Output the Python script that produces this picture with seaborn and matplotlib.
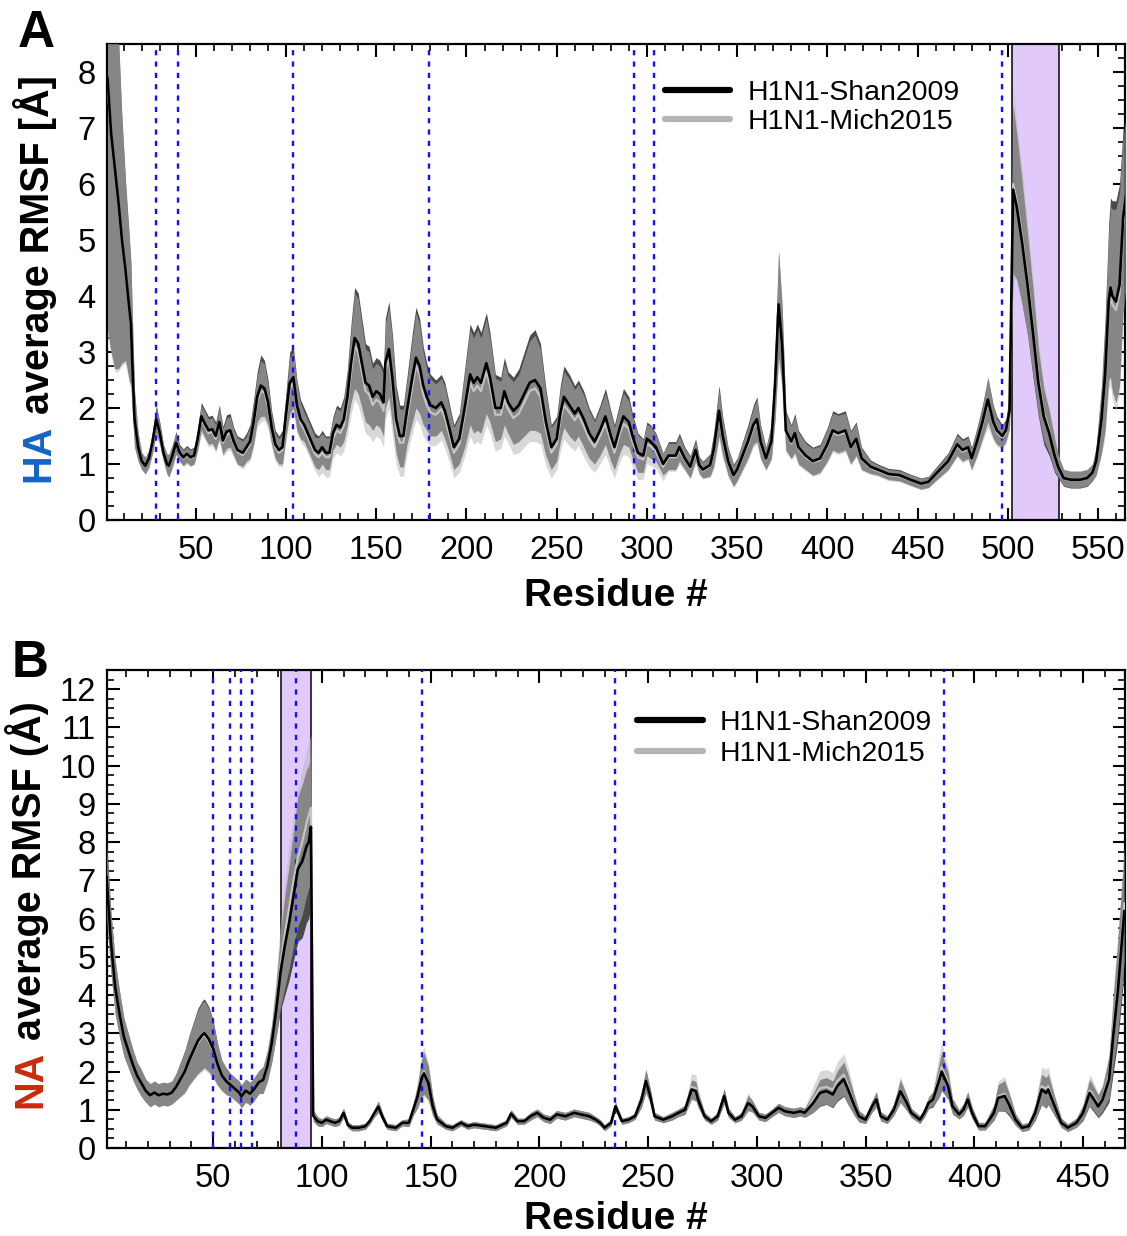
import numpy as np
import matplotlib
matplotlib.use("Agg")
import matplotlib.pyplot as plt
from matplotlib.ticker import MultipleLocator
from matplotlib.lines import Line2D
import seaborn as sns

# ---------------- HA (panel A) ----------------
HA_RES = [1, 3, 5, 7, 9, 11, 13, 14, 15, 16,
          18, 20, 22, 24, 26, 28, 30, 32, 34, 35,
          37, 39, 41, 43, 45, 47, 49, 51, 53, 55,
          57, 59, 61, 63, 65, 67, 69, 71, 73, 76,
          78, 80, 82, 84, 86, 88, 90, 92, 94, 96,
          98, 100, 102, 104, 106, 108, 110, 112, 114, 116,
          118, 120, 122, 124, 126, 128, 130, 132, 134, 136,
          138, 140, 142, 144, 146, 148, 150, 152, 154, 155,
          157, 159, 161, 163, 165, 167, 170, 172, 174, 176,
          178, 180, 183, 186, 188, 190, 193, 196, 199, 202,
          204, 206, 208, 211, 213, 216, 219, 221, 223, 226,
          229, 232, 235, 238, 241, 244, 247, 250, 252, 254,
          257, 260, 262, 265, 268, 271, 274, 277, 280, 282,
          285, 287, 290, 292, 295, 298, 300, 302, 305, 309,
          312, 316, 318, 321, 324, 327, 329, 331, 335, 337,
          340, 342, 345, 348, 350, 353, 356, 359, 361, 363,
          366, 369, 371, 373, 375, 377, 380, 382, 384, 388,
          392, 396, 400, 403, 406, 410, 413, 416, 419, 424,
          428, 434, 440, 446, 452, 456, 461, 467, 472, 475,
          478, 480, 483, 486, 489, 492, 494, 497, 499, 501,
          503, 505, 508, 511, 514, 517, 520, 523, 526, 528,
          531, 535, 540, 544, 547, 549, 552, 554, 556, 557,
          558, 560, 562, 564, 566]

HA_SHAN = [7.9, 6.9, 6.3, 5.7, 5.0, 4.45, 3.8, 3.5, 2.6, 1.8,
           1.3, 1.05, 0.97, 1.1, 1.4, 1.8, 1.55, 1.2, 1.0, 0.97,
           1.15, 1.38, 1.2, 1.12, 1.18, 1.12, 1.15, 1.45, 1.85, 1.72,
           1.6, 1.62, 1.5, 1.75, 1.42, 1.58, 1.6, 1.4, 1.25, 1.2,
           1.3, 1.4, 1.75, 2.2, 2.4, 2.35, 2.1, 1.65, 1.35, 1.25,
           1.3, 1.9, 2.45, 2.55, 2.05, 1.8, 1.7, 1.55, 1.4, 1.25,
           1.2, 1.3, 1.2, 1.2, 1.55, 1.7, 1.65, 1.8, 2.2, 2.8,
           3.25, 3.15, 2.8, 2.45, 2.4, 2.2, 2.3, 2.25, 2.1, 2.8,
           3.05, 2.5, 1.8, 1.5, 1.5, 1.95, 2.55, 2.9, 2.75, 2.4,
           2.2, 2.05, 2.0, 2.1, 1.95, 1.7, 1.3, 1.45, 2.0, 2.6,
           2.45, 2.55, 2.45, 2.8, 2.55, 2.0, 2.0, 2.3, 2.1, 1.95,
           2.05, 2.25, 2.45, 2.5, 2.35, 1.75, 1.3, 1.45, 1.9, 2.2,
           2.05, 1.9, 2.0, 1.8, 1.55, 1.4, 1.6, 1.85, 1.5, 1.3,
           1.65, 1.85, 1.75, 1.5, 1.2, 1.15, 1.45, 1.4, 1.3, 1.0,
           1.15, 1.15, 1.3, 1.1, 0.95, 1.25, 0.98, 0.9, 0.98, 1.25,
           1.95, 1.5, 1.05, 0.8, 0.9, 1.15, 1.4, 1.7, 1.8, 1.4,
           1.1, 1.4, 2.4, 3.85, 3.1, 1.6, 1.4, 1.55, 1.3, 1.15,
           1.05, 1.1, 1.35, 1.6, 1.55, 1.6, 1.3, 1.45, 1.1, 0.95,
           0.9, 0.82, 0.8, 0.72, 0.65, 0.68, 0.85, 1.05, 1.35, 1.25,
           1.3, 1.1, 1.4, 1.75, 2.15, 1.75, 1.6, 1.5, 1.6, 1.95,
           5.9, 5.6, 4.95, 4.2, 3.35, 2.45, 1.85, 1.55, 1.15, 0.95,
           0.75, 0.72, 0.72, 0.75, 0.85, 1.05, 1.8, 2.6, 3.9, 4.15,
           4.0, 3.9, 4.2, 5.4, 5.9]

HA_SHAN_SD = [4.5, 3.9, 3.6, 3.0, 2.2, 1.6, 1.3, 1.1, 0.8, 0.5,
              0.25, 0.15, 0.15, 0.15, 0.2, 0.25, 0.2, 0.15, 0.18, 0.2,
              0.2, 0.2, 0.15, 0.15, 0.15, 0.15, 0.15, 0.2, 0.25, 0.25,
              0.25, 0.25, 0.25, 0.3, 0.25, 0.3, 0.3, 0.25, 0.25, 0.25,
              0.25, 0.3, 0.4, 0.45, 0.55, 0.5, 0.4, 0.3, 0.25, 0.25,
              0.3, 0.4, 0.55, 0.55, 0.45, 0.35, 0.3, 0.3, 0.3, 0.3,
              0.3, 0.3, 0.3, 0.3, 0.3, 0.35, 0.35, 0.4, 0.5, 0.7,
              0.9, 0.9, 0.8, 0.7, 0.7, 0.6, 0.6, 0.6, 0.6, 0.8,
              0.85, 0.8, 0.6, 0.55, 0.55, 0.6, 0.8, 0.9, 0.85, 0.7,
              0.6, 0.55, 0.5, 0.5, 0.5, 0.45, 0.4, 0.45, 0.7, 0.9,
              0.9, 0.95, 0.9, 0.9, 0.8, 0.6, 0.55, 0.6, 0.55, 0.6,
              0.65, 0.75, 0.85, 0.9, 0.8, 0.6, 0.4, 0.4, 0.5, 0.55,
              0.55, 0.5, 0.5, 0.5, 0.45, 0.4, 0.45, 0.5, 0.45, 0.4,
              0.45, 0.5, 0.45, 0.4, 0.35, 0.3, 0.3, 0.3, 0.25, 0.2,
              0.25, 0.25, 0.25, 0.2, 0.2, 0.2, 0.15, 0.15, 0.2, 0.3,
              0.45, 0.35, 0.25, 0.2, 0.2, 0.25, 0.3, 0.35, 0.4, 0.3,
              0.2, 0.3, 0.6, 0.95, 0.7, 0.35, 0.3, 0.35, 0.3, 0.25,
              0.25, 0.25, 0.3, 0.35, 0.35, 0.35, 0.3, 0.3, 0.2, 0.12,
              0.1, 0.1, 0.1, 0.1, 0.1, 0.1, 0.12, 0.15, 0.2, 0.2,
              0.2, 0.2, 0.25, 0.3, 0.4, 0.3, 0.25, 0.2, 0.2, 0.3,
              1.5, 1.3, 1.1, 0.9, 0.8, 0.6, 0.5, 0.4, 0.3, 0.2,
              0.15, 0.15, 0.15, 0.15, 0.15, 0.25, 0.6, 1.0, 1.4, 1.6,
              1.7, 1.8, 1.8, 1.6, 1.5]

HA_MICH = [7.8, 6.85, 6.25, 5.65, 4.95, 4.4, 3.75, 3.45, 2.6, 1.8,
           1.3, 1.05, 0.97, 1.08, 1.38, 1.75, 1.52, 1.2, 1.0, 0.97,
           1.13, 1.35, 1.18, 1.1, 1.15, 1.1, 1.13, 1.42, 1.8, 1.68,
           1.55, 1.58, 1.45, 1.7, 1.38, 1.52, 1.55, 1.36, 1.22, 1.16,
           1.25, 1.35, 1.7, 2.12, 2.3, 2.28, 2.02, 1.6, 1.3, 1.2,
           1.25, 1.82, 2.35, 2.45, 2.0, 1.74, 1.62, 1.48, 1.33, 1.18,
           1.12, 1.2, 1.12, 1.12, 1.45, 1.6, 1.55, 1.68, 2.08, 2.65,
           3.1, 3.0, 2.65, 2.3, 2.25, 2.05, 2.15, 2.1, 1.95, 2.65,
           2.9, 2.35, 1.65, 1.38, 1.38, 1.82, 2.4, 2.75, 2.6, 2.25,
           2.05, 1.92, 1.88, 1.98, 1.83, 1.58, 1.2, 1.35, 1.88, 2.45,
           2.3, 2.4, 2.3, 2.65, 2.4, 1.88, 1.88, 2.15, 1.98, 1.82,
           1.9, 2.1, 2.3, 2.35, 2.2, 1.62, 1.2, 1.35, 1.78, 2.05,
           1.92, 1.78, 1.88, 1.68, 1.45, 1.3, 1.5, 1.72, 1.4, 1.2,
           1.55, 1.72, 1.63, 1.4, 1.12, 1.08, 1.36, 1.32, 1.22, 0.95,
           1.12, 1.12, 1.25, 1.07, 0.93, 1.2, 0.96, 0.88, 0.96, 1.2,
           1.88, 1.45, 1.02, 0.78, 0.88, 1.12, 1.35, 1.65, 1.75, 1.37,
           1.08, 1.36, 2.35, 3.8, 3.05, 1.56, 1.37, 1.5, 1.27, 1.12,
           1.03, 1.07, 1.32, 1.56, 1.52, 1.56, 1.28, 1.42, 1.08, 0.93,
           0.88, 0.8, 0.78, 0.71, 0.64, 0.67, 0.83, 1.03, 1.32, 1.22,
           1.27, 1.08, 1.37, 1.7, 2.1, 1.72, 1.56, 1.47, 1.56, 1.9,
           6.0, 5.7, 5.05, 4.3, 3.45, 2.55, 1.92, 1.6, 1.18, 0.97,
           0.76, 0.73, 0.73, 0.76, 0.86, 1.05, 1.75, 2.5, 3.75, 4.0,
           3.85, 3.75, 4.05, 5.25, 5.8]

HA_MICH_SD = [4.5, 3.9, 3.6, 3.0, 2.2, 1.6, 1.3, 1.1, 0.8, 0.5,
              0.25, 0.15, 0.15, 0.15, 0.2, 0.25, 0.2, 0.15, 0.18, 0.2,
              0.2, 0.2, 0.15, 0.15, 0.15, 0.15, 0.15, 0.2, 0.25, 0.25,
              0.25, 0.25, 0.25, 0.3, 0.25, 0.3, 0.3, 0.25, 0.25, 0.25,
              0.25, 0.3, 0.4, 0.45, 0.55, 0.5, 0.4, 0.3, 0.25, 0.25,
              0.3, 0.4, 0.55, 0.55, 0.45, 0.35, 0.3, 0.3, 0.3, 0.3,
              0.35, 0.35, 0.35, 0.35, 0.35, 0.4, 0.4, 0.45, 0.55, 0.75,
              0.95, 0.95, 0.85, 0.75, 0.75, 0.65, 0.65, 0.65, 0.65, 0.85,
              0.9, 0.85, 0.65, 0.6, 0.6, 0.65, 0.85, 0.95, 0.9, 0.75,
              0.65, 0.6, 0.55, 0.55, 0.55, 0.5, 0.45, 0.5, 0.75, 0.95,
              0.95, 1.0, 0.95, 0.95, 0.85, 0.65, 0.6, 0.65, 0.6, 0.65,
              0.7, 0.8, 0.9, 0.95, 0.85, 0.65, 0.45, 0.45, 0.55, 0.6,
              0.6, 0.55, 0.55, 0.55, 0.5, 0.45, 0.5, 0.55, 0.5, 0.45,
              0.5, 0.55, 0.5, 0.45, 0.4, 0.35, 0.35, 0.35, 0.3, 0.25,
              0.25, 0.25, 0.25, 0.2, 0.2, 0.2, 0.15, 0.15, 0.2, 0.3,
              0.45, 0.35, 0.25, 0.2, 0.2, 0.25, 0.3, 0.35, 0.4, 0.3,
              0.2, 0.3, 0.6, 1.0, 0.75, 0.35, 0.3, 0.35, 0.3, 0.25,
              0.25, 0.25, 0.3, 0.35, 0.35, 0.35, 0.3, 0.3, 0.2, 0.12,
              0.1, 0.1, 0.1, 0.1, 0.1, 0.1, 0.12, 0.15, 0.2, 0.2,
              0.2, 0.2, 0.25, 0.3, 0.45, 0.3, 0.25, 0.2, 0.2, 0.3,
              1.7, 1.4, 1.2, 1.0, 0.85, 0.65, 0.5, 0.4, 0.3, 0.2,
              0.15, 0.15, 0.15, 0.15, 0.15, 0.25, 0.6, 1.0, 1.4, 1.6,
              1.7, 1.8, 1.8, 1.6, 1.5]

HA_MARKS = [28, 40, 104, 179, 293, 304, 497]
HA_REGION = [502.5, 528.5]

# ---------------- NA (panel B) ----------------
NA_RES = [1, 3, 5, 7, 9, 11, 13, 15, 17, 19,
          21, 23, 25, 27, 29, 31, 33, 35, 37, 39,
          41, 43, 45, 46, 48, 50, 52, 54, 56, 58,
          60, 62, 63, 65, 67, 69, 71, 73, 75, 77,
          79, 81, 83, 85, 87, 89, 91, 93, 94, 95,
          96, 98, 100, 102, 104, 106, 108, 110, 112, 114,
          117, 120, 122, 124, 126, 128, 130, 134, 137, 140,
          142, 144, 146, 147, 149, 151, 153, 157, 160, 164,
          167, 170, 175, 180, 185, 187, 190, 193, 196, 199,
          202, 205, 208, 212, 216, 219, 223, 226, 228, 230,
          233, 235, 238, 241, 244, 247, 249, 251, 253, 257,
          261, 264, 267, 270, 272, 273, 276, 279, 282, 285,
          287, 290, 293, 296, 298, 301, 304, 307, 310, 313,
          317, 320, 322, 326, 329, 332, 335, 337, 340, 342,
          345, 347, 350, 353, 355, 357, 360, 363, 366, 369,
          371, 375, 377, 379, 381, 384, 385, 388, 390, 393,
          395, 397, 399, 402, 405, 409, 411, 414, 416, 419,
          422, 425, 428, 431, 433, 434, 437, 440, 443, 447,
          450, 453, 454, 457, 459, 462, 464, 466, 468, 469]

NA_SHAN = [7.1, 5.4, 4.2, 3.5, 2.9, 2.55, 2.2, 1.9, 1.7, 1.5,
           1.38, 1.45, 1.38, 1.42, 1.4, 1.45, 1.6, 1.8, 2.0, 2.3,
           2.55, 2.8, 2.95, 3.0, 2.85, 2.6, 2.2, 1.9, 1.75, 1.65,
           1.55, 1.45, 1.35, 1.5, 1.42, 1.55, 1.72, 1.78, 2.15, 2.75,
           3.6, 4.6, 5.3, 5.9, 6.6, 7.3, 7.5, 7.9, 8.0, 8.4,
           0.85, 0.7, 0.66, 0.74, 0.7, 0.66, 0.7, 0.92, 0.6, 0.53,
           0.53, 0.57, 0.7, 0.9, 1.08, 0.8, 0.57, 0.53, 0.66, 0.66,
           1.0, 1.35, 1.85, 1.95, 1.7, 1.1, 0.75, 0.57, 0.53, 0.66,
           0.57, 0.61, 0.57, 0.53, 0.66, 0.9, 0.7, 0.7, 0.83, 0.92,
           0.79, 0.74, 0.88, 0.83, 0.92, 0.88, 0.83, 0.74, 0.66, 0.53,
           0.66, 1.09, 0.7, 0.74, 0.83, 1.27, 1.75, 1.36, 0.83, 0.74,
           0.83, 0.92, 1.0, 1.53, 1.49, 1.27, 0.83, 0.7, 0.83, 1.36,
           0.92, 0.74, 0.83, 1.18, 1.09, 0.83, 0.79, 0.92, 1.05, 0.96,
           0.92, 0.96, 0.92, 1.18, 1.44, 1.49, 1.4, 1.62, 1.8, 1.53,
           1.09, 0.83, 0.74, 1.09, 1.27, 0.83, 0.74, 1.0, 1.49, 1.18,
           0.92, 0.74, 0.92, 1.18, 1.27, 1.8, 2.0, 1.62, 1.09, 0.88,
           1.0, 1.27, 0.92, 0.57, 0.57, 0.92, 1.31, 1.36, 1.14, 0.74,
           0.53, 0.57, 0.92, 1.53, 1.44, 1.53, 1.09, 0.66, 0.53, 0.66,
           0.92, 1.44, 1.36, 1.09, 1.27, 1.8, 3.0, 4.1, 5.5, 6.2]

NA_SHAN_SD = [1.0, 0.8, 0.7, 0.6, 0.5, 0.45, 0.4, 0.35, 0.35, 0.3,
              0.3, 0.3, 0.3, 0.3, 0.3, 0.3, 0.35, 0.45, 0.55, 0.65,
              0.75, 0.85, 0.9, 0.9, 0.85, 0.75, 0.55, 0.4, 0.35, 0.3,
              0.3, 0.3, 0.3, 0.3, 0.3, 0.3, 0.3, 0.35, 0.4, 0.5,
              0.7, 1.0, 1.3, 1.5, 1.7, 1.9, 2.0, 2.0, 2.0, 2.0,
              0.15, 0.12, 0.1, 0.1, 0.1, 0.1, 0.1, 0.12, 0.08, 0.08,
              0.08, 0.08, 0.08, 0.1, 0.15, 0.1, 0.08, 0.08, 0.08, 0.1,
              0.15, 0.3, 0.5, 0.55, 0.45, 0.25, 0.12, 0.08, 0.08, 0.08,
              0.08, 0.08, 0.08, 0.08, 0.08, 0.1, 0.08, 0.08, 0.1, 0.1,
              0.1, 0.1, 0.1, 0.1, 0.1, 0.1, 0.1, 0.08, 0.08, 0.08,
              0.08, 0.12, 0.08, 0.08, 0.08, 0.2, 0.3, 0.2, 0.1, 0.08,
              0.1, 0.1, 0.12, 0.25, 0.25, 0.2, 0.1, 0.08, 0.1, 0.2,
              0.12, 0.08, 0.1, 0.2, 0.15, 0.1, 0.1, 0.1, 0.12, 0.12,
              0.12, 0.12, 0.12, 0.25, 0.35, 0.35, 0.35, 0.4, 0.45, 0.4,
              0.25, 0.15, 0.1, 0.15, 0.2, 0.12, 0.1, 0.15, 0.3, 0.2,
              0.12, 0.1, 0.12, 0.15, 0.2, 0.45, 0.5, 0.35, 0.2, 0.12,
              0.15, 0.2, 0.15, 0.1, 0.1, 0.2, 0.35, 0.4, 0.3, 0.15,
              0.1, 0.1, 0.2, 0.4, 0.4, 0.4, 0.25, 0.12, 0.1, 0.12,
              0.2, 0.35, 0.35, 0.3, 0.35, 0.6, 1.0, 1.3, 1.5, 1.5]

NA_MICH = [7.0, 5.35, 4.2, 3.5, 2.9, 2.55, 2.2, 1.9, 1.7, 1.5,
           1.38, 1.45, 1.38, 1.42, 1.4, 1.45, 1.6, 1.78, 1.98, 2.28,
           2.52, 2.75, 2.9, 2.95, 2.8, 2.55, 2.18, 1.9, 1.75, 1.65,
           1.55, 1.45, 1.35, 1.5, 1.42, 1.55, 1.72, 1.78, 2.15, 2.75,
           3.7, 4.8, 5.6, 6.3, 7.0, 7.6, 8.0, 8.5, 8.7, 8.9,
           0.85, 0.7, 0.66, 0.74, 0.7, 0.66, 0.7, 0.92, 0.6, 0.53,
           0.53, 0.57, 0.7, 0.9, 1.08, 0.8, 0.57, 0.53, 0.66, 0.66,
           1.0, 1.38, 1.9, 2.0, 1.72, 1.12, 0.76, 0.57, 0.53, 0.66,
           0.57, 0.61, 0.57, 0.53, 0.66, 0.9, 0.7, 0.7, 0.83, 0.92,
           0.79, 0.74, 0.88, 0.83, 0.92, 0.88, 0.83, 0.74, 0.66, 0.53,
           0.66, 1.09, 0.7, 0.74, 0.83, 1.27, 1.75, 1.36, 0.83, 0.74,
           0.83, 0.92, 1.0, 1.6, 1.56, 1.3, 0.83, 0.7, 0.83, 1.36,
           0.92, 0.74, 0.83, 1.2, 1.1, 0.83, 0.79, 0.92, 1.05, 0.96,
           0.92, 0.96, 0.92, 1.28, 1.56, 1.6, 1.52, 1.75, 1.92, 1.62,
           1.12, 0.83, 0.74, 1.09, 1.27, 0.83, 0.74, 1.0, 1.52, 1.2,
           0.92, 0.74, 0.92, 1.2, 1.3, 1.9, 2.12, 1.7, 1.1, 0.88,
           1.0, 1.27, 0.92, 0.57, 0.57, 0.92, 1.35, 1.42, 1.18, 0.74,
           0.53, 0.57, 0.95, 1.62, 1.55, 1.62, 1.12, 0.66, 0.53, 0.66,
           0.95, 1.5, 1.45, 1.12, 1.32, 1.9, 3.2, 4.3, 5.7, 6.4]

NA_MICH_SD = [1.0, 0.8, 0.7, 0.6, 0.5, 0.45, 0.4, 0.35, 0.35, 0.3,
              0.3, 0.3, 0.3, 0.3, 0.3, 0.3, 0.35, 0.45, 0.55, 0.65,
              0.75, 0.85, 0.9, 0.9, 0.85, 0.75, 0.55, 0.4, 0.35, 0.3,
              0.3, 0.3, 0.3, 0.3, 0.3, 0.3, 0.3, 0.35, 0.4, 0.5,
              0.8, 1.1, 1.4, 1.6, 1.7, 1.8, 1.9, 1.9, 1.9, 1.9,
              0.15, 0.12, 0.1, 0.1, 0.1, 0.1, 0.1, 0.12, 0.08, 0.08,
              0.08, 0.08, 0.08, 0.1, 0.15, 0.1, 0.08, 0.08, 0.08, 0.1,
              0.15, 0.35, 0.6, 0.65, 0.5, 0.25, 0.12, 0.08, 0.08, 0.08,
              0.08, 0.08, 0.08, 0.08, 0.08, 0.1, 0.08, 0.08, 0.1, 0.1,
              0.1, 0.1, 0.1, 0.1, 0.1, 0.1, 0.1, 0.08, 0.08, 0.08,
              0.08, 0.12, 0.08, 0.08, 0.08, 0.2, 0.3, 0.2, 0.1, 0.08,
              0.1, 0.1, 0.12, 0.35, 0.35, 0.25, 0.1, 0.08, 0.1, 0.2,
              0.12, 0.08, 0.1, 0.25, 0.15, 0.1, 0.1, 0.1, 0.12, 0.12,
              0.12, 0.12, 0.12, 0.35, 0.45, 0.45, 0.45, 0.5, 0.55, 0.5,
              0.3, 0.15, 0.1, 0.15, 0.2, 0.12, 0.1, 0.15, 0.35, 0.2,
              0.12, 0.1, 0.12, 0.15, 0.2, 0.6, 0.65, 0.4, 0.2, 0.12,
              0.15, 0.2, 0.15, 0.1, 0.1, 0.2, 0.4, 0.45, 0.3, 0.15,
              0.1, 0.1, 0.2, 0.5, 0.5, 0.5, 0.25, 0.12, 0.1, 0.12,
              0.2, 0.4, 0.4, 0.3, 0.35, 0.6, 1.0, 1.3, 1.5, 1.5]

NA_MARKS = [50, 58, 63, 68, 88, 146, 235, 386]
NA_REGION = [81, 95]

SERIES = ["H1N1-Shan2009", "H1N1-Mich2015"]

# ---------------- style ----------------
sns.set_theme(style="ticks")
plt.rcParams["font.family"] = ["Liberation Sans", "DejaVu Sans"]
plt.rcParams["axes.linewidth"] = 1.6
plt.rcParams["text.color"] = "black"
plt.rcParams["axes.labelcolor"] = "black"

SHAN_BAND = "#4a4a4a"
MICH_BAND = "#b8b8b8"
MICH_LINE = "#c4c4c4"
SPAN_COL = "#e2c9fb"
MARK_COL = "#1010ff"

fig = plt.figure(figsize=(11.27, 12.36), dpi=100)
axA = fig.add_axes([0.0949, 0.5793, 0.9033, 0.3851])
axB = fig.add_axes([0.0949, 0.0712, 0.9033, 0.3867])


def draw_panel(ax, res, shan, shan_sd, mich, mich_sd, marks, region, xlim, ylim,
               ymajor, xlabelpad):
    res = np.asarray(res, float)
    shan = np.asarray(shan, float)
    shan_sd = np.asarray(shan_sd, float)
    mich = np.asarray(mich, float)
    mich_sd = np.asarray(mich_sd, float)

    ax.axvspan(region[0], region[1], facecolor=SPAN_COL, edgecolor="black",
               linewidth=1.1, zorder=1)
    ax.fill_between(res, shan - shan_sd, shan + shan_sd, color=SHAN_BAND,
                    linewidth=0, zorder=2)
    ax.fill_between(res, mich - mich_sd, mich + mich_sd, color=MICH_BAND,
                    alpha=0.55, linewidth=0, zorder=3)
    for m in marks:
        ax.axvline(m, color=MARK_COL, linewidth=1.7, dashes=(2.2, 2.6), zorder=4)
    sns.lineplot(x=res, y=mich, ax=ax, color=MICH_LINE, linewidth=1.6,
                 sort=False, zorder=5, legend=False)
    sns.lineplot(x=res, y=shan, ax=ax, color="black", linewidth=1.9,
                 sort=False, zorder=6, legend=False)

    ax.set_xlim(*xlim)
    ax.set_ylim(*ylim)
    ax.xaxis.set_major_locator(MultipleLocator(50))
    ax.xaxis.set_minor_locator(MultipleLocator(10))
    ax.yaxis.set_major_locator(MultipleLocator(ymajor))
    ax.yaxis.set_minor_locator(MultipleLocator(0.25))
    ax.tick_params(which="both", direction="in", top=True, right=True,
                   labelsize=23.5, colors="black")
    ax.tick_params(which="major", length=9, width=1.5, pad=8)
    ax.tick_params(axis="x", which="major", pad=10.5)
    ax.tick_params(which="minor", length=5, width=1.2)
    for s in ax.spines.values():
        s.set_linewidth(1.6)
        s.set_color("black")
    ax.set_xlabel("Residue #", fontsize=28, fontweight="bold",
                  labelpad=xlabelpad, color="black")
    ax.set_ylabel("")


draw_panel(axA, HA_RES, HA_SHAN, HA_SHAN_SD, HA_MICH, HA_MICH_SD,
           HA_MARKS, HA_REGION, (0.7, 565), (0, 8.5), 1, 9)
draw_panel(axB, NA_RES, NA_SHAN, NA_SHAN_SD, NA_MICH, NA_MICH_SD,
           NA_MARKS, NA_REGION, (1.2, 469.3), (0, 12.5), 1, 5)

handles = [Line2D([0], [0], color="black", lw=4.5),
           Line2D([0], [0], color="#b5b5b5", lw=4.5)]
for ax, anchor, sp in ((axA, (0.548, 0.925), 0.12), (axB, (0.521, 0.917), 0.2)):
    ax.legend(handles, SERIES, loc="upper left", bbox_to_anchor=anchor,
              frameon=False, fontsize=20.5, handlelength=2.3, handletextpad=0.6,
              labelspacing=sp, borderpad=0, borderaxespad=0)

# panel letters
fig.text(0.016, 0.993, "A", fontsize=37, fontweight="bold", va="top", ha="left")
fig.text(0.010, 0.483, "B", fontsize=37, fontweight="bold", va="top", ha="left")

# multi-coloured y labels
fig.canvas.draw()
renderer = fig.canvas.get_renderer()
FS = 28.5


def ylabel(x, y, first, first_color, rest):
    t = fig.text(x, y, first, rotation=90, rotation_mode="anchor", ha="left",
                 va="baseline", color=first_color, fontsize=FS, fontweight="bold")
    bb = t.get_window_extent(renderer)
    gap = FS * 0.278 * fig.dpi / 72.0
    y2 = (bb.y1 + gap) / fig.bbox.height
    fig.text(x, y2, rest, rotation=90, rotation_mode="anchor", ha="left",
             va="baseline", color="black", fontsize=FS, fontweight="bold")


ylabel(0.0435, 0.610, "HA", "#1464c4", "average RMSF [Å]")
ylabel(0.0365, 0.1036, "NA", "#c92a0c", "average RMSF (Å)")

fig.savefig("out.png", dpi=100)
